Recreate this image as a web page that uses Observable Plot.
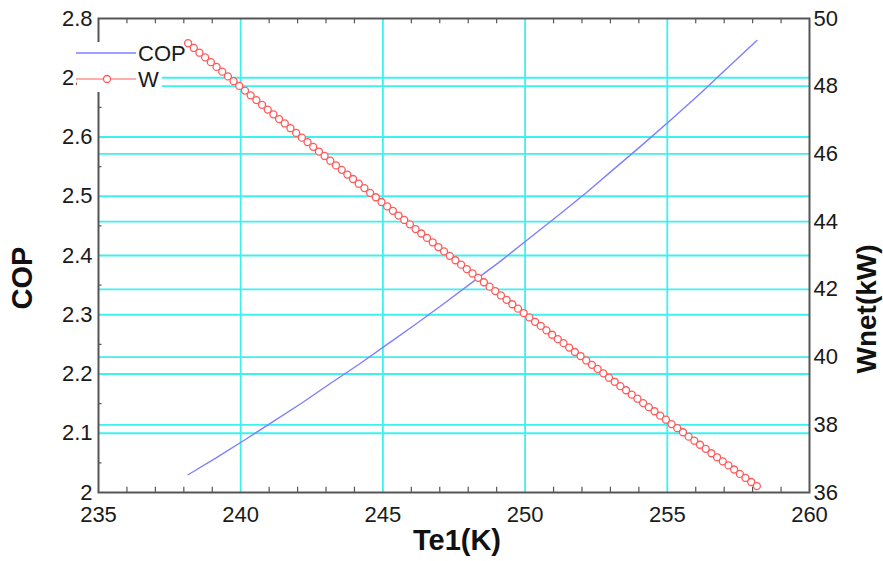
<!DOCTYPE html>
<html>
<head>
<meta charset="utf-8">
<script src="https://cdn.jsdelivr.net/npm/d3@7"></script>
<script src="https://cdn.jsdelivr.net/npm/@observablehq/plot@0.6"></script>
<style>
  html, body { margin: 0; padding: 0; background: white; }
  #wrap { position: relative; width: 883px; height: 561px; }
  #overlay { position: absolute; left: 0; top: 0; pointer-events: none; }
</style>
</head>
<body>
<div id="wrap"></div>
<script>
// ---- data ----
const copTe = [238.15, 239.15, 240.15, 241.15, 242.15, 243.15, 244.15, 245.15, 246.15, 247.15,
  248.15, 249.15, 250.15, 251.15, 252.15, 253.15, 254.15, 255.15, 256.15, 257.15, 258.15];
const copValues = [2.030, 2.059, 2.089, 2.120, 2.151, 2.184, 2.216, 2.250, 2.284, 2.319,
  2.355, 2.391, 2.429, 2.467, 2.506, 2.547, 2.588, 2.630, 2.673, 2.718, 2.763];

const wTe = [
  238.15, 238.35, 238.55, 238.75, 238.95, 239.15, 239.35, 239.55, 239.75, 239.95,
  240.15, 240.35, 240.55, 240.75, 240.95, 241.15, 241.35, 241.55, 241.75, 241.95,
  242.15, 242.35, 242.55, 242.75, 242.95, 243.15, 243.35, 243.55, 243.75, 243.95,
  244.15, 244.35, 244.55, 244.75, 244.95, 245.15, 245.35, 245.55, 245.75, 245.95,
  246.15, 246.35, 246.55, 246.75, 246.95, 247.15, 247.35, 247.55, 247.75, 247.95,
  248.15, 248.35, 248.55, 248.75, 248.95, 249.15, 249.35, 249.55, 249.75, 249.95,
  250.15, 250.35, 250.55, 250.75, 250.95, 251.15, 251.35, 251.55, 251.75, 251.95,
  252.15, 252.35, 252.55, 252.75, 252.95, 253.15, 253.35, 253.55, 253.75, 253.95,
  254.15, 254.35, 254.55, 254.75, 254.95, 255.15, 255.35, 255.55, 255.75, 255.95,
  256.15, 256.35, 256.55, 256.75, 256.95, 257.15, 257.35, 257.55, 257.75, 257.95,
  258.15];
const wValues = [
  49.27, 49.13, 48.99, 48.85, 48.71, 48.57, 48.43, 48.29, 48.15, 48.01,
  47.87, 47.73, 47.59, 47.45, 47.31, 47.17, 47.03, 46.90, 46.76, 46.62,
  46.48, 46.35, 46.21, 46.07, 45.94, 45.80, 45.66, 45.53, 45.39, 45.26,
  45.12, 44.99, 44.85, 44.72, 44.58, 44.45, 44.32, 44.18, 44.05, 43.92,
  43.78, 43.65, 43.52, 43.39, 43.25, 43.12, 42.99, 42.86, 42.73, 42.60,
  42.47, 42.34, 42.21, 42.08, 41.95, 41.82, 41.69, 41.56, 41.43, 41.30,
  41.17, 41.04, 40.92, 40.79, 40.66, 40.53, 40.41, 40.28, 40.15, 40.03,
  39.90, 39.77, 39.65, 39.52, 39.39, 39.27, 39.14, 39.02, 38.89, 38.77,
  38.64, 38.52, 38.40, 38.27, 38.15, 38.02, 37.90, 37.78, 37.65, 37.53,
  37.41, 37.29, 37.16, 37.04, 36.92, 36.80, 36.68, 36.55, 36.43, 36.31,
  36.19];

const xTicks = [235, 240, 245, 250, 255, 260];
const xGrid = [240, 245, 250, 255];
const xMinor = [236, 237, 238, 239, 241, 242, 243, 244, 246, 247, 248, 249, 251, 252, 253, 254, 256, 257, 258, 259];
const copTicks = [2, 2.1, 2.2, 2.3, 2.4, 2.5, 2.6, 2.7, 2.8];
const copGrid = [2.1, 2.2, 2.3, 2.4, 2.5, 2.6, 2.7];
const copMinor = [2.05, 2.15, 2.25, 2.35, 2.45, 2.55, 2.65, 2.75];
const wTicks = [36, 38, 40, 42, 44, 46, 48, 50];
const wGrid = [38, 40, 42, 44, 46, 48];

const xTitle = "Te1(K)";
const yLeftTitle = "COP";
const yRightTitle = "Wnet(kW)";
const seriesNames = ["COP", "W"];

// ---- mapping of the right axis (Wnet) onto the left scale (COP) ----
const copDomain = [2, 2.8];
const wDomain = [36, 50];
const toY = w => copDomain[0] + (w - wDomain[0]) * (copDomain[1] - copDomain[0]) / (wDomain[1] - wDomain[0]);
const fromY = y => wDomain[0] + (y - copDomain[0]) * (wDomain[1] - wDomain[0]) / (copDomain[1] - copDomain[0]);

const copData = copTe.map((t, i) => ({t, cop: copValues[i]}));
const wData = wTe.map((t, i) => ({t, w: wValues[i], y: toY(wValues[i])}));

const gridColor = "#3ff0f0";
const axisColor = "#555";
const copColor = "#7f7fff";
const wColor = "#ff5a5a";

const chart = Plot.plot({
  width: 883,
  height: 561,
  marginLeft: 98,
  marginRight: 74,
  marginTop: 18,
  marginBottom: 69,
  style: {fontFamily: "'Liberation Sans', Arial, sans-serif", fontSize: "22px", color: "#1a1a1a", background: "white"},
  x: {domain: [235, 260]},
  y: {domain: copDomain},
  marks: [
    Plot.gridX(xGrid, {stroke: gridColor, strokeOpacity: 1, strokeWidth: 1.8}),
    Plot.gridY(copGrid, {stroke: gridColor, strokeOpacity: 1, strokeWidth: 1.8}),
    Plot.gridY(wGrid.map(toY), {stroke: gridColor, strokeOpacity: 1, strokeWidth: 1.8}),
    // inner minor ticks
    Plot.ruleY(copMinor, {x1: 235, x2: 235.12, stroke: axisColor, strokeWidth: 1.2}),
    Plot.ruleX(xMinor, {y1: 2, y2: 2.009, stroke: axisColor, strokeWidth: 1.2}),
    Plot.ruleX(xMinor, {y1: 2.8, y2: 2.791, stroke: axisColor, strokeWidth: 1.2}),
    // series
    Plot.line(copData, {x: "t", y: "cop", stroke: copColor, strokeWidth: 1.4}),
    Plot.line(wData, {x: "t", y: "y", stroke: wColor, strokeWidth: 1.2}),
    Plot.dot(wData, {x: "t", y: "y", r: 3.5, stroke: wColor, strokeWidth: 1.3, fill: "white"}),
    // frame and axes
    Plot.frame({stroke: axisColor, strokeWidth: 2}),
    Plot.axisX(xTicks, {anchor: "bottom", tickSize: 0, tickPadding: 14, label: null, tickFormat: d => String(d)}),
    Plot.axisY(copTicks, {anchor: "left", tickSize: 0, tickPadding: 6, label: null, tickFormat: d => String(d)}),
    Plot.axisY(wTicks.map(toY), {anchor: "right", tickSize: 0, tickPadding: 4, label: null, tickFormat: d => String(Math.round(fromY(d)))})
  ]
});

const wrap = document.getElementById("wrap");
wrap.appendChild(chart);

// ---- overlay: legend and axis titles ----
const ns = "http://www.w3.org/2000/svg";
const ov = document.createElementNS(ns, "svg");
ov.setAttribute("id", "overlay");
ov.setAttribute("width", 883);
ov.setAttribute("height", 561);
ov.style.fontFamily = "'Liberation Sans', Arial, sans-serif";
function el(tag, attrs, text) {
  const e = document.createElementNS(ns, tag);
  for (const k in attrs) e.setAttribute(k, attrs[k]);
  if (text != null) e.textContent = text;
  ov.appendChild(e);
  return e;
}
// legend
el("rect", {x: 77, y: 42, width: 85, height: 50, fill: "white"});
el("line", {x1: 76, x2: 136, y1: 53, y2: 53, stroke: copColor, "stroke-width": 1.4});
el("text", {x: 138, y: 61, "font-size": 22, fill: "#1a1a1a"}, seriesNames[0]);
el("line", {x1: 76, x2: 136, y1: 79, y2: 79, stroke: wColor, "stroke-width": 1.2});
el("circle", {cx: 107, cy: 79, r: 3.5, fill: "white", stroke: wColor, "stroke-width": 1.3});
el("text", {x: 138, y: 87, "font-size": 22, fill: "#1a1a1a"}, seriesNames[1]);
// titles
el("text", {x: 457, y: 550, "font-size": 29, "font-weight": "bold", "text-anchor": "middle", fill: "#111"}, xTitle);
el("text", {transform: "translate(32,278) rotate(-90)", "font-size": 29, "font-weight": "bold", "text-anchor": "middle", fill: "#111"}, yLeftTitle);
el("text", {transform: "translate(876,309) rotate(-90)", "font-size": 28, "font-weight": "bold", "text-anchor": "middle", fill: "#111"}, yRightTitle);
wrap.appendChild(ov);
</script>
</body>
</html>
